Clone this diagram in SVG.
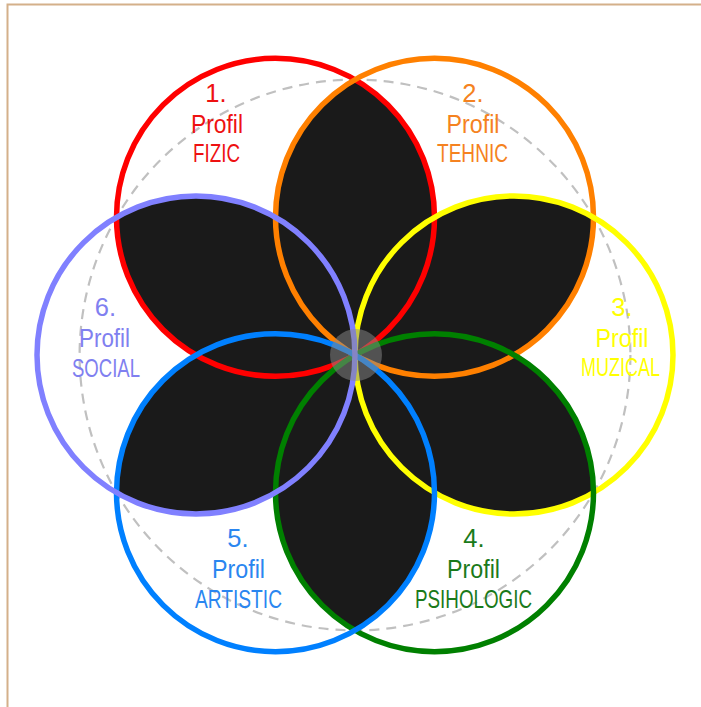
<svg xmlns="http://www.w3.org/2000/svg" xmlns:xlink="http://www.w3.org/1999/xlink" width="701" height="707" viewBox="0 0 701 707">
<style>
.ring{fill:none;stroke-width:5.5}
.lens{fill:#1a1a1a}
.lbl{font-family:"Liberation Sans",Arial,sans-serif;font-size:25.5px;text-anchor:middle}
</style>
<defs>
<path id="lens" d="M355,355 A159,159 0 0,0 355,79.6 A159,159 0 0,0 355,355 Z"/>
</defs>
<rect x="0" y="0" width="701" height="707" fill="#ffffff"/>
<rect x="7.5" y="4.5" width="720" height="720" fill="none" stroke="#d4b08a" stroke-width="2"/>
<circle id="guide" cx="355" cy="355" r="275.4" fill="none" stroke="#c0c0c0" stroke-width="2.2" stroke-dasharray="10 7"/>
<g id="petals" class="lens">
<use xlink:href="#lens"/>
<use xlink:href="#lens" transform="rotate(60 355 355)"/>
<use xlink:href="#lens" transform="rotate(120 355 355)"/>
<use xlink:href="#lens" transform="rotate(180 355 355)"/>
<use xlink:href="#lens" transform="rotate(240 355 355)"/>
<use xlink:href="#lens" transform="rotate(300 355 355)"/>
</g>
<g id="node1">
<circle class="ring" cx="275.5" cy="217.3" r="159" stroke="#ff0000"/>
<g class="lbl" fill="#ee1111">
<text x="216" y="102">1.</text>
<text x="217" y="133" textLength="52" lengthAdjust="spacingAndGlyphs">Profil</text>
<text x="216.5" y="162" textLength="47" lengthAdjust="spacingAndGlyphs">FIZIC</text>
</g>
</g>
<g id="node2">
<circle class="ring" cx="434.5" cy="217.3" r="159" stroke="#ff8000"/>
<g class="lbl" fill="#f58220">
<text x="473" y="102">2.</text>
<text x="473" y="133" textLength="53" lengthAdjust="spacingAndGlyphs">Profil</text>
<text x="472.5" y="162" textLength="71" lengthAdjust="spacingAndGlyphs">TEHNIC</text>
</g>
</g>
<g id="node3">
<circle class="ring" cx="514" cy="355" r="159" stroke="#ffff00"/>
<g class="lbl" fill="#ffff00">
<text x="622" y="316">3.</text>
<text x="622" y="347" textLength="53" lengthAdjust="spacingAndGlyphs">Profil</text>
<text x="620.5" y="376" textLength="79" lengthAdjust="spacingAndGlyphs">MUZICAL</text>
</g>
</g>
<g id="node4">
<circle class="ring" cx="434.5" cy="492.7" r="159" stroke="#008000"/>
<g class="lbl" fill="#1a7a1a">
<text x="474" y="547">4.</text>
<text x="473.5" y="578" textLength="53" lengthAdjust="spacingAndGlyphs">Profil</text>
<text x="473.5" y="608" textLength="117" lengthAdjust="spacingAndGlyphs">PSIHOLOGIC</text>
</g>
</g>
<g id="node5">
<circle class="ring" cx="275.5" cy="492.7" r="159" stroke="#0080ff"/>
<g class="lbl" fill="#2a86f0">
<text x="238" y="547">5.</text>
<text x="238.5" y="578" textLength="53" lengthAdjust="spacingAndGlyphs">Profil</text>
<text x="238.5" y="608" textLength="87" lengthAdjust="spacingAndGlyphs">ARTISTIC</text>
</g>
</g>
<g id="node6">
<circle class="ring" cx="196" cy="355" r="159" stroke="#8080ff"/>
<g class="lbl" fill="#8080f0">
<text x="105.5" y="316">6.</text>
<text x="104.5" y="347" textLength="51" lengthAdjust="spacingAndGlyphs">Profil</text>
<text x="106" y="377" textLength="68" lengthAdjust="spacingAndGlyphs">SOCIAL</text>
</g>
</g>
<circle id="hub" cx="356" cy="355" r="26" fill="#8a8a8a" fill-opacity="0.5"/>
</svg>
